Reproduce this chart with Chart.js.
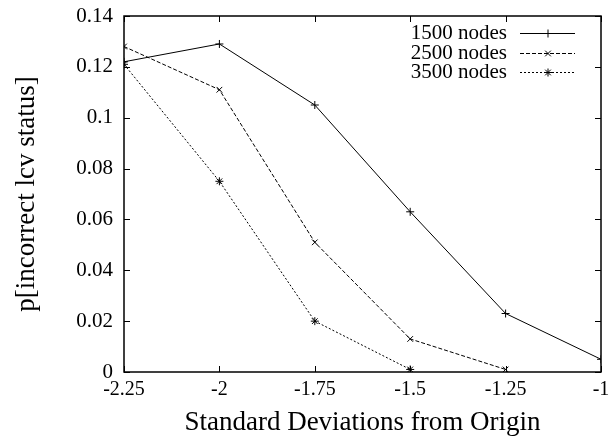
<!DOCTYPE html>
<html lang="en">
<head>
<meta charset="UTF-8">
<title>p[incorrect lcv status]</title>
<script src="https://cdn.jsdelivr.net/npm/chart.js@4.4.1/dist/chart.umd.min.js"></script>
<style>
    html, body { margin: 0; padding: 0; background: #fff; }
    #wrap { width: 609px; height: 443px; position: relative; }
</style>
</head>
<body>
<div id="wrap"><canvas id="chart"></canvas></div>
<script>
// values
const xValues = [-2.25, -2, -1.75, -1.5, -1.25, -1];
const nodes1500 = [0.122, 0.129, 0.105, 0.063, 0.023, 0.005];
const nodes2500 = [0.128, 0.111, 0.051, 0.013, 0.001];
const nodes3500 = [0.121, 0.075, 0.020, 0.001];
const seriesLabels = ['1500 nodes', '2500 nodes', '3500 nodes'];
const xTicks = [-2.25, -2, -1.75, -1.5, -1.25, -1];
const yTicks = [0, 0.02, 0.04, 0.06, 0.08, 0.1, 0.12, 0.14];

const serif = "'Liberation Serif', 'DejaVu Serif', serif";

function pairs(ys) {
    return ys.map((y, i) => ({ x: xValues[i], y: y }));
}

// inward ticks on all four sides, box, and gnuplot-style legend
const framePlugin = {
    id: 'frame',
    afterDraw(chart) {
        const ctx = chart.ctx;
        const a = chart.chartArea;
        const xs = chart.scales.x, ys = chart.scales.y;
        const len = 6;
        ctx.save();
        ctx.strokeStyle = '#000';
        ctx.lineWidth = 1;
        ctx.beginPath();
        xTicks.forEach(v => {
            const px = Math.round(xs.getPixelForValue(v)) + 0.5;
            ctx.moveTo(px, a.bottom); ctx.lineTo(px, a.bottom - len);
            ctx.moveTo(px, a.top); ctx.lineTo(px, a.top + len);
        });
        yTicks.forEach(v => {
            const py = Math.round(ys.getPixelForValue(v)) + 0.5;
            ctx.moveTo(a.left, py); ctx.lineTo(a.left + len, py);
            ctx.moveTo(a.right, py); ctx.lineTo(a.right - len, py);
        });
        ctx.stroke();
        ctx.lineWidth = 1.5;
        ctx.strokeRect(a.left, a.top, a.right - a.left, a.bottom - a.top);

        // legend
        ctx.font = '21px ' + serif;
        ctx.fillStyle = '#000';
        ctx.textAlign = 'right';
        ctx.textBaseline = 'middle';
        const rowY = [33, 53, 72];
        chart.data.datasets.forEach((ds, i) => {
            const y = rowY[i];
            ctx.fillText(ds.label, 507, y);
            ctx.beginPath();
            ctx.lineWidth = 1;
            ctx.setLineDash(ds.borderDash || []);
            ctx.moveTo(520, y + 0.5); ctx.lineTo(575, y + 0.5);
            ctx.stroke();
            ctx.setLineDash([]);
            Chart.helpers.drawPoint(ctx, {
                pointStyle: ds.pointStyle, radius: ds.pointRadius,
                borderWidth: 1, rotation: 0
            }, 548, y + 0.5);
        });
        ctx.restore();
    }
};

function makeSet(label, ys, style, dash) {
    return {
        label: label,
        data: pairs(ys),
        borderColor: '#000',
        backgroundColor: '#000',
        borderWidth: 1,
        borderDash: dash,
        pointStyle: style,
        pointRadius: 4,
        pointBorderWidth: 1,
        pointBorderColor: '#000',
        pointBackgroundColor: '#000',
        tension: 0,
        fill: false
    };
}

new Chart(document.getElementById('chart'), {
    type: 'line',
    data: {
        datasets: [
            makeSet(seriesLabels[0], nodes1500, 'cross', []),
            makeSet(seriesLabels[1], nodes2500, 'crossRot', [4, 2]),
            makeSet(seriesLabels[2], nodes3500, 'star', [2, 2])
        ]
    },
    options: {
        responsive: true,
        maintainAspectRatio: false,
        animation: false,
        layout: { padding: { left: 0, top: 16, right: 8, bottom: 0 } },
        plugins: {
            legend: { display: false },
            tooltip: { enabled: false }
        },
        scales: {
            x: {
                type: 'linear',
                min: -2.25,
                max: -1,
                afterFit(scale) {
                    scale.height = 71;
                    scale.paddingLeft = 0;
                    scale.paddingRight = 0;
                },
                afterBuildTicks(scale) { scale.ticks = xTicks.map(v => ({ value: v })); },
                ticks: {
                    color: '#000',
                    padding: 6,
                    maxRotation: 0,
                    font: { family: serif, size: 20 },
                    callback: v => String(v)
                },
                grid: { display: false, drawTicks: false },
                border: { display: false },
                title: {
                    display: true,
                    text: 'Standard Deviations from Origin',
                    color: '#000',
                    font: { family: serif, size: 27 },
                    padding: { top: 0, bottom: 4 }
                }
            },
            y: {
                min: 0,
                max: 0.14,
                afterFit(scale) {
                    scale.width = 124;
                    scale.paddingTop = 0;
                    scale.paddingBottom = 0;
                },
                afterBuildTicks(scale) { scale.ticks = yTicks.map(v => ({ value: v })); },
                ticks: {
                    color: '#000',
                    padding: 11,
                    font: { family: serif, size: 21 },
                    callback: v => String(Math.round(v * 100) / 100)
                },
                grid: { display: false, drawTicks: false },
                border: { display: false },
                title: {
                    display: true,
                    text: 'p[incorrect lcv status]',
                    color: '#000',
                    font: { family: serif, size: 27 },
                    padding: { top: 11, bottom: 0 }
                }
            }
        }
    },
    plugins: [framePlugin]
});
</script>
</body>
</html>
